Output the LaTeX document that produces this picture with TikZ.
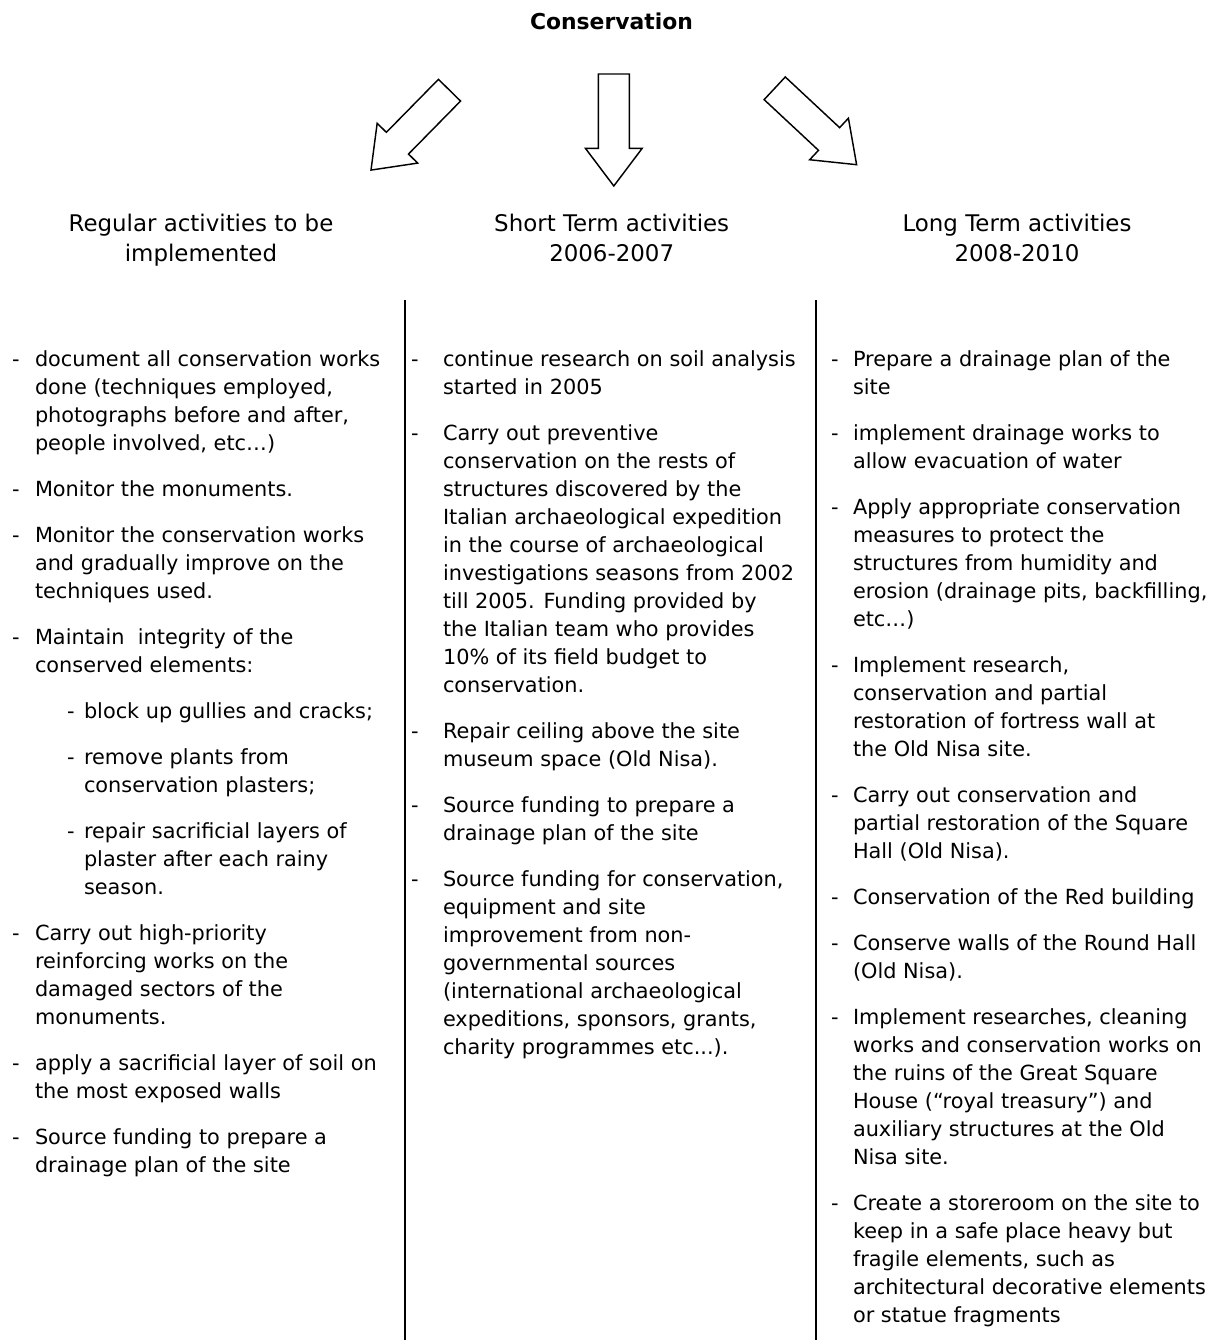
\documentclass[tikz,border=0pt]{standalone}
\usepackage{fontspec}
\setmainfont{DejaVu Sans}
\usetikzlibrary{positioning}

\newlength{\colw}
\setlength{\colw}{201.6pt}
% one list entry: indent, width of the dash box, lines
\newcommand{\actitem}[3]{\hspace*{#1}\makebox[#2][l]{-}\parbox[t]{\dimexpr\colw-#1-#2\relax}{\strut#3\strut}}
% outlined block arrow: tail centre, direction
\newcommand{\fatarrow}[2]{\draw[arrowline,shift={#1},rotate=#2] (0,15.5) -- (74.3,15.5) -- (74.3,28.4) -- (112,0) -- (74.3,-28.4) -- (74.3,-15.5) -- (0,-15.5) -- cycle;}

\tikzset{
  arrowline/.style={line width=0.7pt,line join=miter},
  title/.style={font=\fontsize{10.5pt}{12pt}\selectfont\bfseries,anchor=base},
  colhead/.style={font=\fontsize{11pt}{14.4pt}\selectfont,align=center,anchor=north,inner sep=0pt},
  entry/.style={font=\fontsize{10pt}{13.44pt}\selectfont,inner sep=0pt,outer sep=0pt},
  divider/.style={line width=1pt}
}

\begin{document}
\begin{tikzpicture}[x=0.48pt,y=-0.48pt,node distance=8.64pt]
\useasboundingbox (0,0) rectangle (1217,1340);

\node[title] (top) at (611.5,30) {Conservation};
\fatarrow{(449.5,90.2)}{225.5}
\fatarrow{(613.8,74)}{-90}
\fatarrow{(774.7,88.3)}{-43}

\node[colhead] (hl) at (201,210) {\strut Regular activities to be\\implemented};
\node[colhead] (hm) at (611.7,210) {\strut Short Term activities\\2006-2007};
\node[colhead] (hr) at (1017,210) {\strut Long Term activities\\2008-2010};

\draw[divider] (405,300) -- (405,1340);
\draw[divider] (816,300) -- (816,1340);

% regular activities
\node[entry,anchor=north west] (l1) at (12,346.4) {\actitem{0pt}{11.04pt}{document all conservation works\\done (techniques employed,\\photographs before and after,\\people involved, etc…)}};
\node[entry,below=of l1] (l2) {\actitem{0pt}{11.04pt}{Monitor the monuments.}};
\node[entry,below=of l2] (l3) {\actitem{0pt}{11.04pt}{Monitor the conservation works\\and gradually improve on the\\techniques used.}};
\node[entry,below=of l3] (l4) {\actitem{0pt}{11.04pt}{Maintain~ integrity of the\\conserved elements:}};
\node[entry,below=of l4] (l5) {\actitem{26.4pt}{8.16pt}{block up gullies and cracks;}};
\node[entry,below=of l5] (l6) {\actitem{26.4pt}{8.16pt}{remove plants from\\conservation plasters;}};
\node[entry,below=of l6] (l7) {\actitem{26.4pt}{8.16pt}{repair sacrificial layers of\\plaster after each rainy\\season.}};
\node[entry,below=of l7] (l8) {\actitem{0pt}{11.04pt}{Carry out high-priority\\reinforcing works on the\\damaged sectors of the\\monuments.}};
\node[entry,below=of l8] (l9) {\actitem{0pt}{11.04pt}{apply a sacrificial layer of soil on\\the most exposed walls}};
\node[entry,below=of l9] (l10) {\actitem{0pt}{11.04pt}{Source funding to prepare a\\drainage plan of the site}};

% short term
\node[entry,anchor=north west] (m1) at (411,346.4) {\actitem{0pt}{15.36pt}{continue research on soil analysis\\started in 2005}};
\node[entry,below=of m1] (m2) {\actitem{0pt}{15.36pt}{Carry out preventive\\conservation on the rests of\\structures discovered by the\\Italian archaeological expedition\\in the course of archaeological\\investigations seasons from 2002\\till 2005. Funding provided by\\the Italian team who provides\\10\% of its field budget to\\conservation.}};
\node[entry,below=of m2] (m3) {\actitem{0pt}{15.36pt}{Repair ceiling above the site\\museum space (Old Nisa).}};
\node[entry,below=of m3] (m4) {\actitem{0pt}{15.36pt}{Source funding to prepare a\\drainage plan of the site}};
\node[entry,below=of m4] (m5) {\actitem{0pt}{15.36pt}{Source funding for conservation,\\equipment and site\\improvement from non-\\governmental sources\\(international archaeological\\expeditions, sponsors, grants,\\charity programmes etc...).}};

% long term
\node[entry,anchor=north west] (r1) at (831,346.4) {\actitem{0pt}{10.56pt}{Prepare a drainage plan of the\\site}};
\node[entry,below=of r1] (r2) {\actitem{0pt}{10.56pt}{implement drainage works to\\allow evacuation of water}};
\node[entry,below=of r2] (r3) {\actitem{0pt}{10.56pt}{Apply appropriate conservation\\measures to protect the\\structures from humidity and\\erosion (drainage pits, backfilling,\\etc…)}};
\node[entry,below=of r3] (r4) {\actitem{0pt}{10.56pt}{Implement research,\\conservation and partial\\restoration of fortress wall at\\the Old Nisa site.}};
\node[entry,below=of r4] (r5) {\actitem{0pt}{10.56pt}{Carry out conservation and\\partial restoration of the Square\\Hall (Old Nisa).}};
\node[entry,below=of r5] (r6) {\actitem{0pt}{10.56pt}{Conservation of the Red building}};
\node[entry,below=of r6] (r7) {\actitem{0pt}{10.56pt}{Conserve walls of the Round Hall\\(Old Nisa).}};
\node[entry,below=of r7] (r8) {\actitem{0pt}{10.56pt}{Implement researches, cleaning\\works and conservation works on\\the ruins of the Great Square\\House (“royal treasury”) and\\auxiliary structures at the Old\\Nisa site.}};
\node[entry,below=of r8] (r9) {\actitem{0pt}{10.56pt}{Create a storeroom on the site to\\keep in a safe place heavy but\\fragile elements, such as\\architectural decorative elements\\or statue fragments}};
\end{tikzpicture}
\end{document}
